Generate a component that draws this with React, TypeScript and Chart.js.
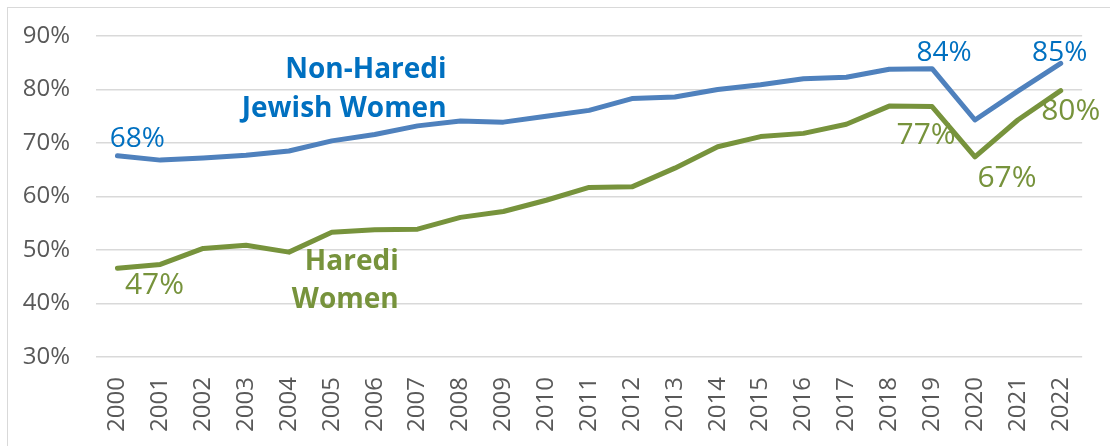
import React, { useEffect, useRef } from "react";
import { Chart, registerables } from "chart.js";

Chart.register(...registerables);

const years = ["2000","2001","2002","2003","2004","2005","2006","2007","2008","2009","2010","2011","2012","2013","2014","2015","2016","2017","2018","2019","2020","2021","2022"];
const nonHarediValues = [67.6, 66.8, 67.2, 67.7, 68.5, 70.4, 71.6, 73.2, 74.1, 73.9, 75.0, 76.1, 78.3, 78.6, 80.0, 80.9, 82.0, 82.3, 83.8, 83.9, 74.3, 79.7, 84.9];
const harediValues = [46.6, 47.3, 50.3, 50.9, 49.6, 53.3, 53.8, 53.9, 56.1, 57.2, 59.3, 61.7, 61.8, 65.3, 69.3, 71.2, 71.8, 73.5, 76.9, 76.8, 67.4, 74.3, 79.8];
const yMin = 30;
const yMax = 90;
const yStep = 10;
const nonHarediLabelIdx = [0, 19, 22];
const nonHarediLabelText = ["68%", "84%", "85%"];
const harediLabelIdx = [0, 19, 20, 22];
const harediLabelText = ["47%", "77%", "67%", "80%"];
const seriesNames = ["Non-Haredi Jewish Women", "Haredi Women"];

const BLUE_LINE = "#4F81BD";
const BLUE_TEXT = "#0070C0";
const GREEN = "#77933C";
const FONT = "'Open Sans', 'Noto Sans', sans-serif";

// pixel offsets (dx, dy) of each label from its data point
const nonHarediOffsets: [number, number][] = [[20, -9], [12, -8], [-1, -2]];
const harediOffsets: [number, number][] = [[37, 26], [-6, 37], [32, 30], [10, 29]];

const labelPlugin = {
  id: "customLabels",
  afterDatasetsDraw(chart: any) {
    const ctx = chart.ctx;
    const xs = chart.scales.x;
    const ys = chart.scales.y;
    ctx.save();
    ctx.textAlign = "center";
    ctx.textBaseline = "alphabetic";
    ctx.font = `28px ${FONT}`;
    ctx.fillStyle = BLUE_TEXT;
    nonHarediLabelIdx.forEach((i, k) => {
      const x = xs.getPixelForValue(i);
      const y = ys.getPixelForValue(nonHarediValues[i]);
      ctx.fillText(nonHarediLabelText[k], x + nonHarediOffsets[k][0], y + nonHarediOffsets[k][1]);
    });
    ctx.font = `30px ${FONT}`;
    ctx.fillStyle = GREEN;
    harediLabelIdx.forEach((i, k) => {
      const x = xs.getPixelForValue(i);
      const y = ys.getPixelForValue(harediValues[i]);
      ctx.fillText(harediLabelText[k], x + harediOffsets[k][0], y + harediOffsets[k][1]);
    });

    // series annotations
    ctx.textAlign = "right";
    ctx.font = `bold 28px ${FONT}`;
    ctx.fillStyle = BLUE_TEXT;
    const nhX = xs.getPixelForValue(7) + 29;
    ctx.fillText("Non-Haredi", nhX, ys.getPixelForValue(82.15));
    ctx.fillText("Jewish Women", nhX, ys.getPixelForValue(74.85));
    ctx.fillStyle = GREEN;
    const hX = xs.getPixelForValue(6) + 24;
    ctx.fillText("Haredi", hX, ys.getPixelForValue(46.25));
    ctx.fillText("Women", hX, ys.getPixelForValue(39.15));
    ctx.restore();
  },
};

export default function App() {
  const ref = useRef<HTMLCanvasElement | null>(null);
  useEffect(() => {
    if (!ref.current) return;
    const chart = new Chart(ref.current, {
      type: "line",
      data: {
        labels: years,
        datasets: [
          {
            label: seriesNames[0],
            data: nonHarediValues,
            borderColor: BLUE_LINE,
            borderWidth: 5,
            pointRadius: 0,
            tension: 0,
            borderJoinStyle: "round",
            borderCapStyle: "round",
          },
          {
            label: seriesNames[1],
            data: harediValues,
            borderColor: GREEN,
            borderWidth: 5,
            pointRadius: 0,
            tension: 0,
            borderJoinStyle: "round",
            borderCapStyle: "round",
          },
        ],
      },
      options: {
        responsive: false,
        animation: false,
        layout: { padding: { left: 0, top: 36, right: 23, bottom: 0 } },
        plugins: { legend: { display: false }, tooltip: { enabled: false } },
        scales: {
          x: {
            type: "category",
            offset: true,
            grid: { display: false, drawTicks: false },
            border: { display: false },
            ticks: {
              color: "#595959",
              font: { family: FONT, size: 24 },
              minRotation: 90,
              maxRotation: 90,
              padding: 20,
              autoSkip: false,
            },
            afterFit: (s: any) => {
              s.height = 89;
            },
          },
          y: {
            min: yMin,
            max: yMax,
            grid: { color: "#D9D9D9", lineWidth: 1.5, drawTicks: false },
            border: { display: false },
            ticks: {
              stepSize: yStep,
              color: "#595959",
              font: { family: FONT, size: 24 },
              padding: 26,
              callback: (v: any) => `${v}%`,
            },
            afterFit: (s: any) => {
              s.width = 96;
              s.paddingTop = 0;
              s.paddingBottom = 0;
            },
          },
        },
      },
      plugins: [labelPlugin],
    });
    return () => chart.destroy();
  }, []);
  return (
    <div style={{ position: "fixed", left: 0, top: 0, width: 1110, height: 446, background: "#fff", overflow: "hidden" }}>
      <div style={{ position: "absolute", left: 7, top: 7, width: 1120, height: 460, border: "1.5px solid #D9D9D9", boxSizing: "border-box" }} />
      <canvas ref={ref} width={1110} height={446} style={{ position: "absolute", left: 0, top: 0, display: "block" }} />
    </div>
  );
}
